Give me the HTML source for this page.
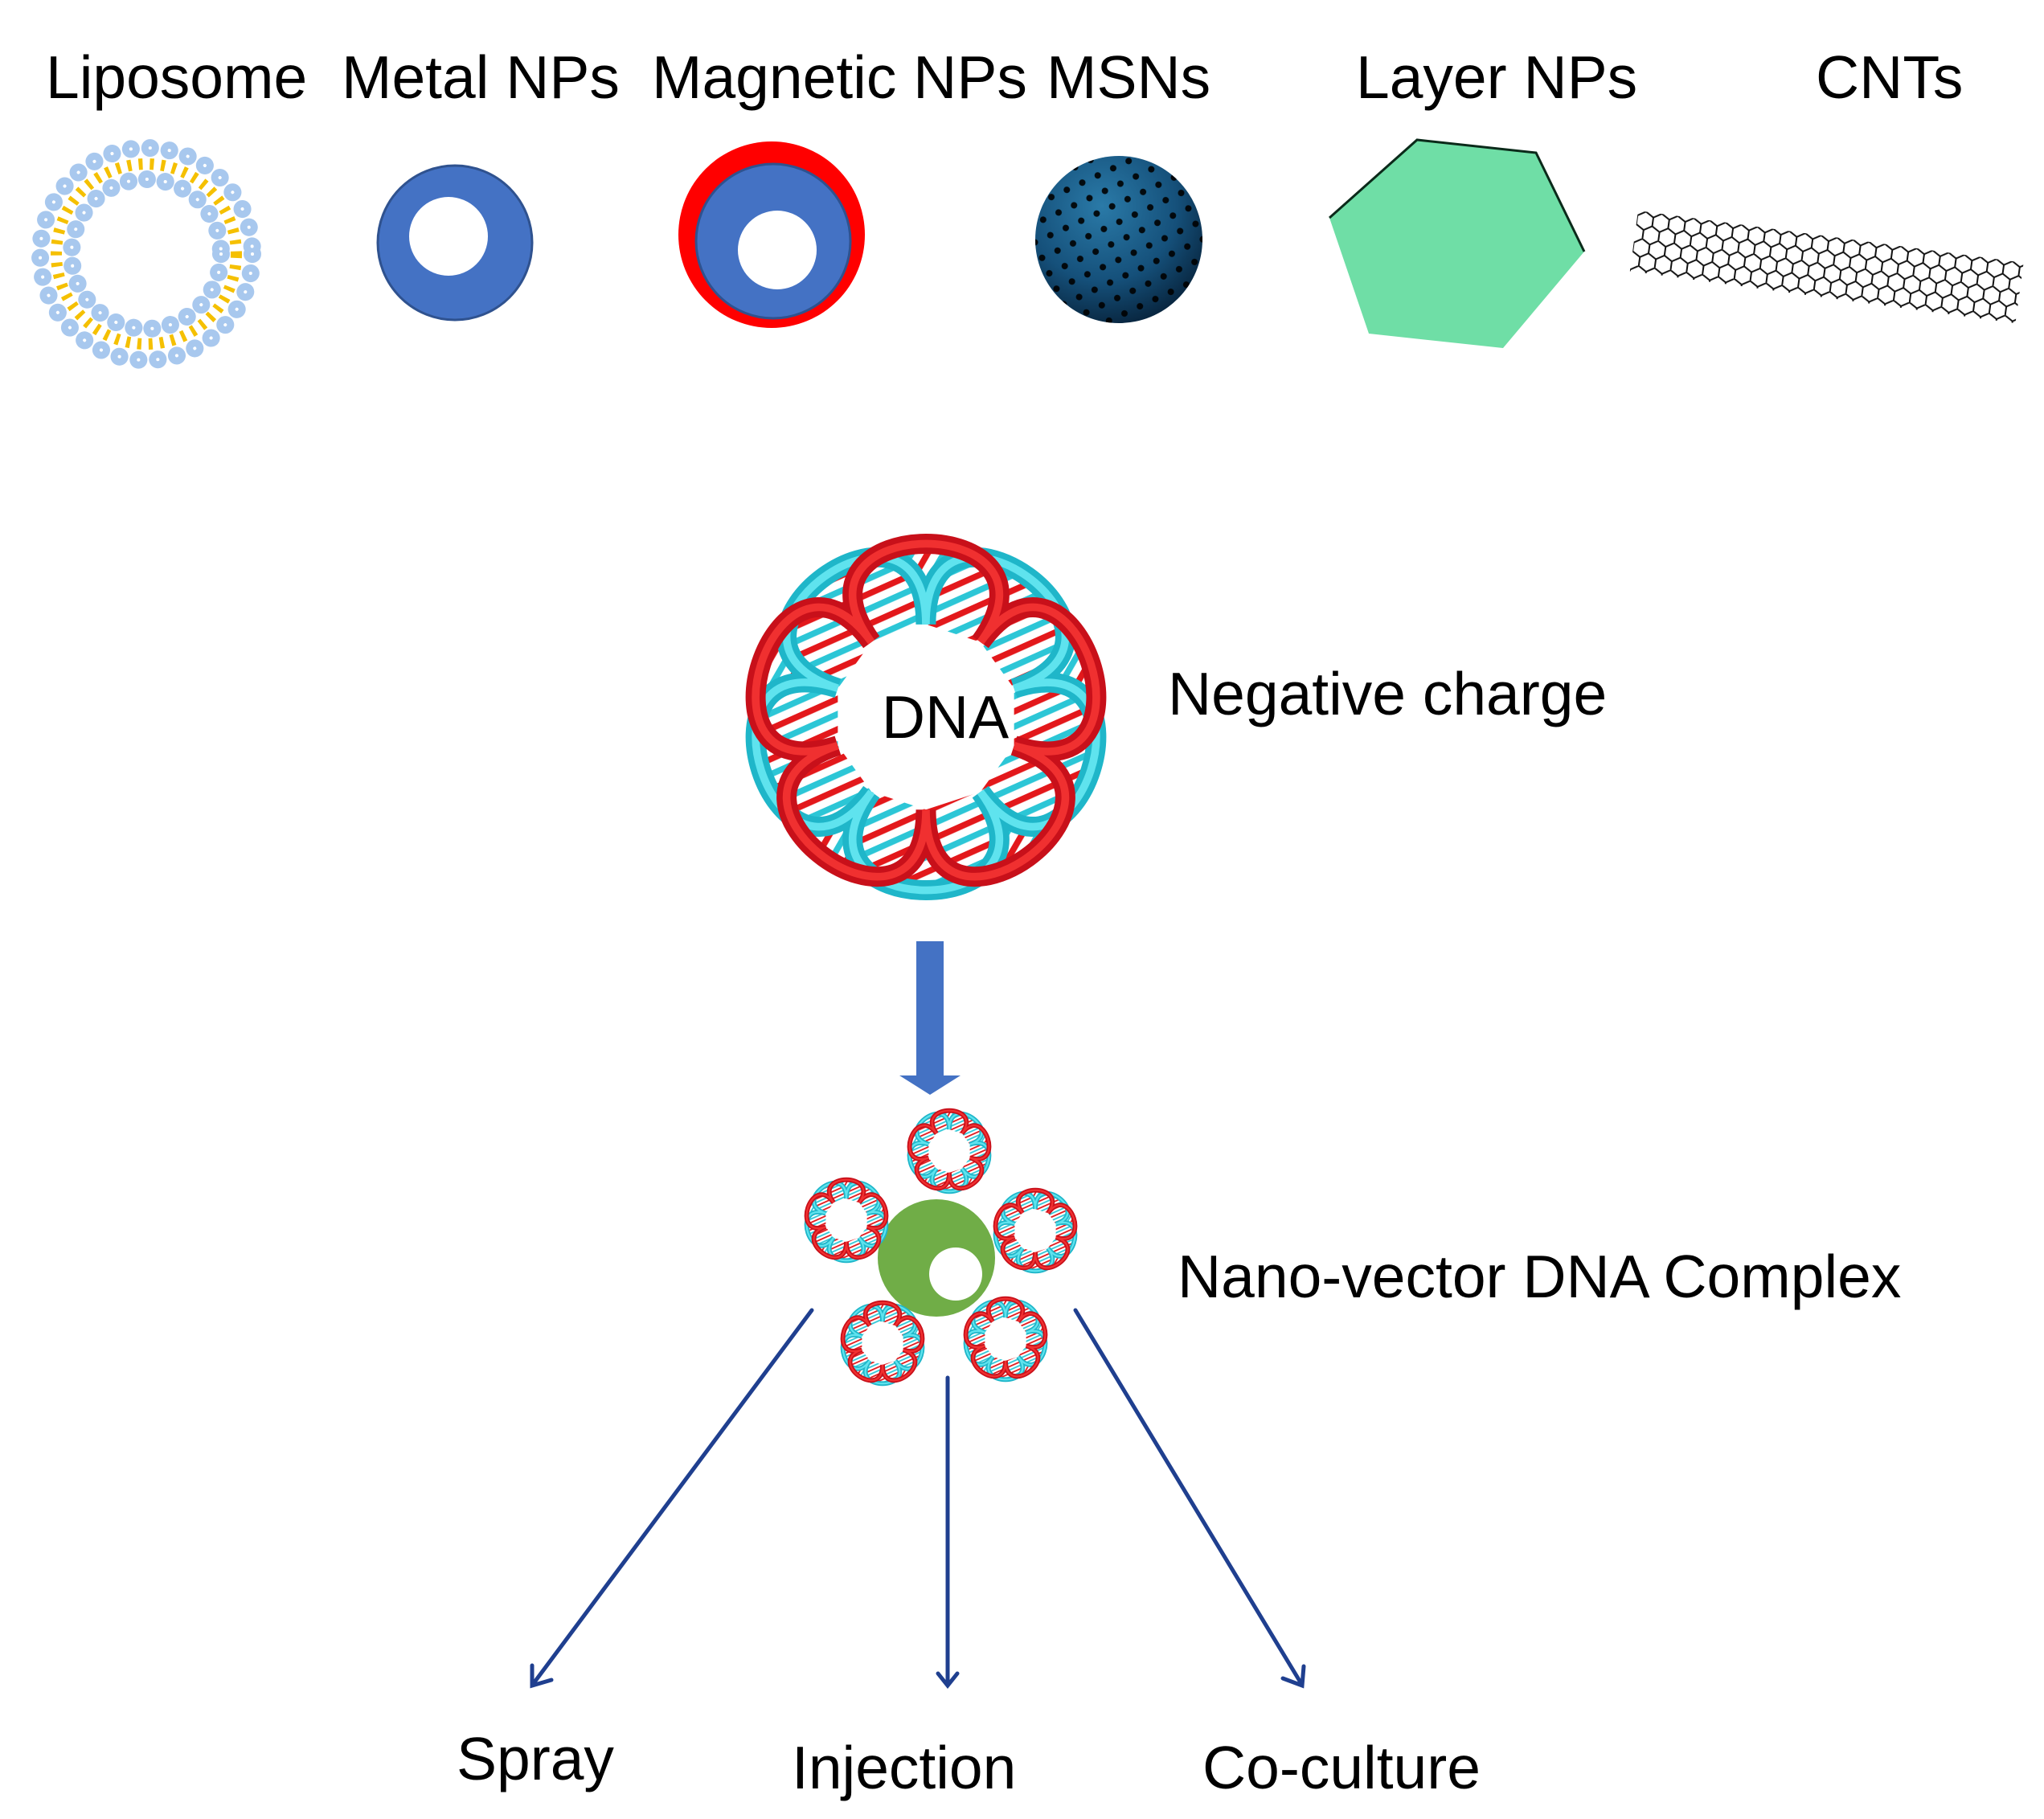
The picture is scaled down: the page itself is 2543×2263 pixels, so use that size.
<!DOCTYPE html>
<html><head><meta charset="utf-8"><style>
html,body{margin:0;padding:0;background:#fff;}
svg{display:block;}
text{font-family:"Liberation Sans",Arial,sans-serif;fill:#000;}
</style></head><body>
<svg width="2543" height="2263" viewBox="0 0 2543 2263" xmlns="http://www.w3.org/2000/svg">
<defs>
  <pattern id="stripes" patternUnits="userSpaceOnUse" width="18" height="18" patternTransform="rotate(30)">
    <rect width="18" height="18" fill="#fff"/>
    <rect x="0" width="4" height="18" fill="#e3181b"/>
    <rect x="9" width="4" height="18" fill="#2cc6d6"/>
  </pattern>
  <radialGradient id="sph" cx="0.4" cy="0.3" r="0.75">
    <stop offset="0" stop-color="#2a7aa8"/>
    <stop offset="0.6" stop-color="#15507a"/>
    <stop offset="1" stop-color="#07223a"/>
  </radialGradient>
  <pattern id="dots" patternUnits="userSpaceOnUse" width="30" height="30" patternTransform="rotate(20)">
    <circle cx="8" cy="8" r="4" fill="#000"/>
    <circle cx="23" cy="23" r="4" fill="#000"/>
  </pattern>
  <clipPath id="sphclip"><circle cx="1392" cy="298" r="104"/></clipPath>
  <pattern id="hex" patternUnits="userSpaceOnUse" width="20" height="34">
    <path d="M0,6 L10,0 L20,6 L20,17 L10,23 L0,17 Z M10,23 L10,34" fill="none" stroke="#111" stroke-width="2"/>
  </pattern>
  <path id="petals" d="M -35.3,-48.5 C -97,-133.5 97,-133.5 35.3,-48.5 C 97,-133.5 156.9,51 57.1,18.5 C 156.9,51 0,165 0,60 C 0,165 -156.9,51 -57.1,18.5 C -156.9,51 -97,-133.5 -35.3,-48.5 Z"/>
  <symbol id="dna" viewBox="-125 -125 250 250">
    <use href="#petals" fill="url(#stripes)"/>
    <use href="#petals" fill="url(#stripes)" transform="rotate(36)"/>
    <polygon points="0,-60 35.3,-48.5 57.1,-18.5 57.1,18.5 35.3,48.5 0,60 -35.3,48.5 -57.1,18.5 -57.1,-18.5 -35.3,-48.5" fill="#fff"/>
    <g transform="rotate(36)">
      <use href="#petals" fill="none" stroke="#1fb6c9" stroke-width="13"/>
      <use href="#petals" fill="none" stroke="#5fe3ee" stroke-width="5"/>
    </g>
    <use href="#petals" fill="none" stroke="#c8101a" stroke-width="13"/>
    <use href="#petals" fill="none" stroke="#f03030" stroke-width="5"/>
  </symbol>
</defs>

<!-- top labels -->
<g font-size="75">
  <text x="57" y="122">Liposome</text>
  <text x="425" y="122">Metal NPs</text>
  <text x="811" y="122">Magnetic NPs</text>
  <text x="1302" y="122">MSNs</text>
  <text x="1687" y="122">Layer NPs</text>
  <text x="2259" y="122">CNTs</text>
</g>

<!-- liposome -->
<g transform="translate(182,316)">
  <circle r="112" fill="none" stroke="#f5c000" stroke-width="14" stroke-dasharray="5 9"/>
  <circle r="132" fill="none" stroke="#a8c8ee" stroke-width="22" stroke-linecap="round" stroke-dasharray="0.1 24"/>
  <circle r="93" fill="none" stroke="#a8c8ee" stroke-width="22" stroke-linecap="round" stroke-dasharray="0.1 23"/>
  <circle r="132" fill="none" stroke="#fff" stroke-width="4" stroke-linecap="round" stroke-dasharray="0.1 24"/>
  <circle r="93" fill="none" stroke="#fff" stroke-width="4" stroke-linecap="round" stroke-dasharray="0.1 23"/>
</g>

<!-- metal NP -->
<circle cx="566" cy="302" r="96" fill="#4472c4" stroke="#2f528f" stroke-width="3"/>
<circle cx="558" cy="294" r="49" fill="#fff"/>

<!-- magnetic NP -->
<circle cx="960" cy="292" r="116" fill="#ff0000"/>
<circle cx="962" cy="300" r="96" fill="#4472c4" stroke="#2f528f" stroke-width="3"/>
<circle cx="967" cy="311" r="49" fill="#fff"/>

<!-- MSN -->
<circle cx="1392" cy="298" r="104" fill="url(#sph)"/>
<rect x="1288" y="194" width="208" height="208" fill="url(#dots)" clip-path="url(#sphclip)" opacity="0.9"/>

<!-- layer NP -->
<polygon points="1654,271 1763,174 1911,190 1971,313 1870,433 1703,415" fill="#6fdea6"/>
<polyline points="1654,271 1763,174 1911,190 1971,313" fill="none" stroke="#0b2a1a" stroke-width="3"/>

<!-- CNT -->
<g transform="translate(2038,262) rotate(7.7)">
  <rect x="0" y="0" width="484" height="76" fill="url(#hex)"/>
</g>

<!-- big DNA -->
<use href="#dna" x="912" y="652" width="480" height="480"/>
<text x="1176" y="918" font-size="75" text-anchor="middle">DNA</text>
<text x="1453" y="889" font-size="75">Negative charge</text>

<!-- blue arrow -->
<rect x="1140" y="1171" width="34" height="167" fill="#4472c4"/>
<polygon points="1119,1338 1195,1338 1157,1362" fill="#4472c4"/>

<!-- complex -->
<circle cx="1165" cy="1565" r="73" fill="#70ad47"/>
<circle cx="1189" cy="1585" r="33" fill="#fff"/>
<use href="#dna" x="1125" y="1376" width="112" height="112"/>
<use href="#dna" x="997" y="1462" width="112" height="112"/>
<use href="#dna" x="1232" y="1475" width="112" height="112"/>
<use href="#dna" x="1042" y="1615" width="112" height="112"/>
<use href="#dna" x="1195" y="1610" width="112" height="112"/>

<text x="1465" y="1614" font-size="75">Nano-vector  DNA Complex</text>

<!-- connector arrows -->
<g stroke="#1f3f8f" stroke-width="5" fill="none" stroke-linecap="round">
  <line x1="1010" y1="1630" x2="664" y2="2094"/>
  <polyline points="662,2072 662,2097 686,2090"/>
  <line x1="1179" y1="1714" x2="1179" y2="2094"/>
  <polyline points="1167,2082 1179,2097 1191,2082"/>
  <line x1="1338" y1="1630" x2="1618" y2="2093"/>
  <polyline points="1596,2088 1620,2097 1622,2073"/>
</g>

<g font-size="75">
  <text x="568" y="2214">Spray</text>
  <text x="985" y="2225">Injection</text>
  <text x="1496" y="2225">Co-culture</text>
</g>
</svg>
</body></html>
